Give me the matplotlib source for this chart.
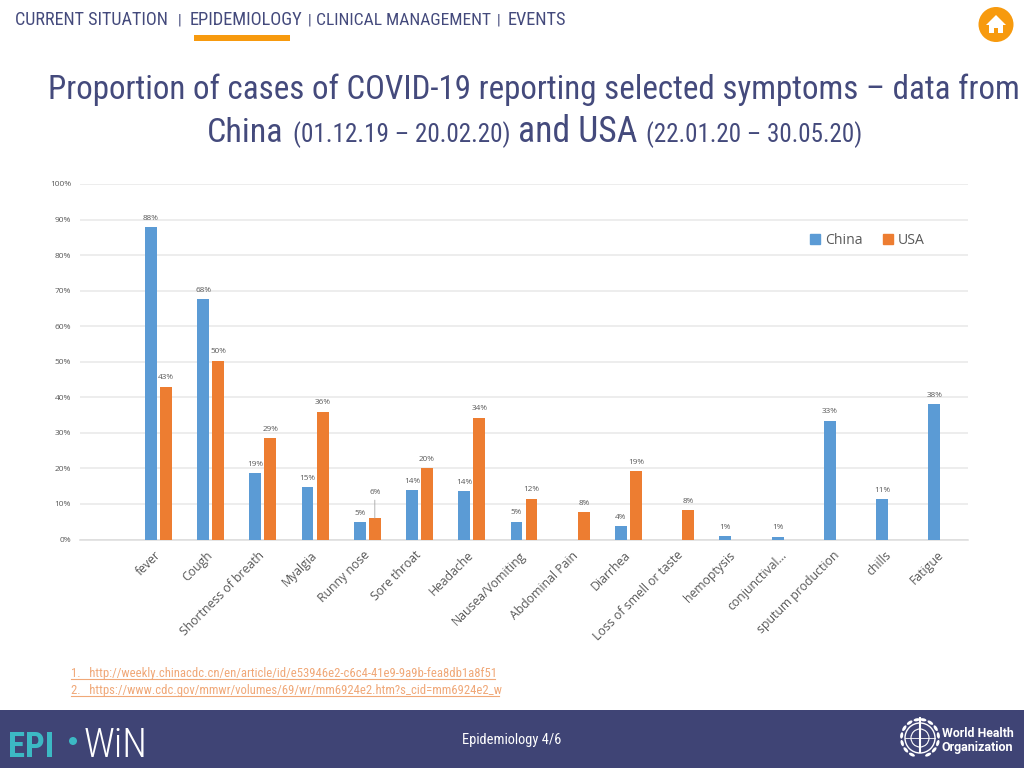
import logging
import matplotlib
matplotlib.use("Agg")
logging.getLogger("matplotlib.font_manager").setLevel(logging.ERROR)
import matplotlib.pyplot as plt
from matplotlib.patches import Rectangle, Circle, Polygon, Ellipse
from matplotlib.lines import Line2D
import numpy as np

categories = ["", "fever", "Cough", "Shortness of breath", "Myalgia", "Runny nose", "Sore throat",
              "Headache", "Nausea/Vomiting", "Abdominal Pain", "Diarrhea", "Loss of smell or taste",
              "hemoptysis", "conjunctival...", "sputum production", "chills", "Fatigue"]
china = [None, 87.9, 67.7, 18.6, 14.8, 4.8, 13.9, 13.6, 5.0, None, 3.7, None, 0.9, 0.8, 33.4, 11.4, 38.1]
usa = [None, 43.0, 50.3, 28.5, 36.0, 6.0, 20.0, 34.3, 11.5, 7.6, 19.2, 8.3, None, None, None, None, None]
china_labels = [None, "88%", "68%", "19%", "15%", "5%", "14%", "14%", "5%", None, "4%", None, "1%", "1%", "33%", "11%", "38%"]
usa_labels = [None, "43%", "50%", "29%", "36%", "6%", "20%", "34%", "12%", "8%", "19%", "8%", None, None, None, None, None]
y_ticks = list(range(0, 101, 10))

NAVY = "#444a7c"
FOOT = "#3f4475"
BLUE = "#5b9bd5"
ORANGE = "#ed7d31"
GREY = "#595959"
NARROW = ["Liberation Sans Narrow", "Roboto Condensed", "Roboto", "DejaVu Sans"]
COND = ["Roboto Condensed", "Roboto", "DejaVu Sans"]
OPEN = ["Open Sans", "DejaVu Sans"]

fig = plt.figure(figsize=(10.24, 7.68), dpi=100, facecolor="white")
renderer = fig.canvas.get_renderer()

bg = fig.add_axes([0, 0, 1, 1], zorder=0)
bg.set_xlim(0, 1024)
bg.set_ylim(768, 0)
bg.axis("off")


def fit(x0, x1, y, s, color=NAVY, family=NARROW, weight="normal"):
    """Real text whose font size is chosen so it spans the pixel range x0..x1."""
    txt = bg.text(x0, y, s, fontsize=20, color=color, ha="left", va="baseline", family=family, weight=weight)
    width = txt.get_window_extent(renderer).width
    txt.set_fontsize(20 * (x1 - x0) / width)
    return txt


# top navigation
for x0, x1, s in [(15, 169, "CURRENT SITUATION"), (178, 180, "|"), (190, 303, "EPIDEMIOLOGY"), (308, 310, "|"),
                  (316, 491, "CLINICAL MANAGEMENT"), (497, 499, "|"), (508, 567, "EVENTS")]:
    if s == "|":
        bg.text(x0, 25, s, fontsize=11, color=NAVY, family=NARROW, va="baseline")
    else:
        fit(x0, x1, 25, s)
bg.add_patch(Rectangle((194, 35), 96, 6, color="#f79a0e", lw=0))

# home icon
bg.add_patch(Circle((996, 24.5), 17.5, color="#f79a0e", lw=0))
bg.add_patch(Polygon([(986, 25), (996, 15), (1006, 25)], color="white", lw=0))
bg.add_patch(Rectangle((989, 24), 14, 9, color="white", lw=0))
bg.add_patch(Rectangle((994, 28), 4, 5, color="#f79a0e", lw=0))

# title
fit(48, 1020, 99, "Proportion of cases of COVID-19 reporting selected symptoms – data from")
fit(207, 283, 142, "China")
fit(293, 511, 142, "(01.12.19 – 20.02.20)")
fit(518, 637, 142, "and USA")
fit(646, 862, 142, "(22.01.20 – 30.05.20)")

# references
for y, s, x1 in [(677, "1.   http://weekly.chinacdc.cn/en/article/id/e53946e2-c6c4-41e9-9a9b-fea8db1a8f51", 495),
                 (694, "2.   https://www.cdc.gov/mmwr/volumes/69/wr/mm6924e2.htm?s_cid=mm6924e2_w", 499)]:
    fit(71, x1, y, s, color="#f0a878")
    bg.add_line(Line2D([71, x1], [y + 2, y + 2], color="#f0a878", lw=0.8))

# footer
bg.add_patch(Rectangle((0, 710), 1024, 58, color=FOOT, lw=0))
fit(462, 562, 744, "Epidemiology 4/6", color="white")
fit(8, 54, 757, "EPI", color="#3cb9c4", family=COND, weight="bold")
bg.add_patch(Circle((73, 741), 4, color="#3cb9c4", lw=0))
fit(84, 148, 757, "WiN", color="white", family=COND, weight="light")
fit(942, 1014, 737, "World Health", color="white", family=["Roboto"], weight="bold")
fit(942, 1014, 751, "Organization", color="white", family=["Roboto"], weight="bold")

# WHO emblem
cx, cy = 920, 738
bg.add_patch(Circle((cx, cy), 15, fill=False, ec="white", lw=1))
bg.add_patch(Circle((cx, cy), 9, fill=False, ec="white", lw=0.8))
bg.add_line(Line2D([cx - 15, cx + 15], [cy, cy], color="white", lw=0.6))
bg.add_line(Line2D([cx, cx], [cy - 20, cy + 14], color="white", lw=1.5))
for ang in np.arange(100, 260, 24):
    a = np.deg2rad(ang)
    for sgn in (1, -1):
        bg.add_patch(Ellipse((cx + sgn * 18.5 * np.cos(a), cy - 18.5 * np.sin(a)), 3, 6.5,
                             angle=-sgn * ang, color="white", lw=0))

# chart
L, R, TOP, BOT = 80, 968, 184, 539.5
ax = fig.add_axes([L / 1024, 1 - BOT / 768, (R - L) / 1024, (BOT - TOP) / 768], zorder=1)
ax.patch.set_alpha(0)
x = np.arange(len(categories))
off, w = 0.144, 0.228

for i, (c, u) in enumerate(zip(china, usa)):
    if c is not None:
        ax.bar(i - off, c, w, color=BLUE, zorder=3)
        ax.annotate(china_labels[i], (i - off, c), xytext=(0, 3.8), textcoords="offset points",
                    ha="center", va="bottom", fontsize=5.9, color=GREY, family=OPEN, zorder=4)
    if u is not None:
        ax.bar(i + off, u, w, color=ORANGE, zorder=3)
        if usa_labels[i] == "6%":
            ax.annotate(usa_labels[i], (i + off, u), xytext=(0, 16), textcoords="offset points",
                        ha="center", va="bottom", fontsize=5.9, color=GREY, family=OPEN, zorder=4,
                        arrowprops=dict(arrowstyle="-", color="#a6a6a6", lw=0.6, shrinkA=1, shrinkB=0))
        else:
            ax.annotate(usa_labels[i], (i + off, u), xytext=(0, 3.8), textcoords="offset points",
                        ha="center", va="bottom", fontsize=5.9, color=GREY, family=OPEN, zorder=4)

ax.set_xlim(-0.5, len(categories) - 0.5)
ax.set_ylim(0, 100)
ax.set_yticks(y_ticks)
ax.set_yticklabels([f"{v}%" for v in y_ticks], fontsize=6.0, color=GREY, family=OPEN)
ax.set_xticks(x)
ax.set_xticklabels(categories, rotation=45, ha="right", va="center", rotation_mode="anchor",
                   fontsize=8.8, color=GREY, family=OPEN)
ax.tick_params(axis="y", length=0, pad=6.5)
ax.tick_params(axis="x", length=0, pad=10)
ax.grid(axis="y", color="#e8e8e8", lw=1.1, zorder=0)
ax.set_axisbelow(True)
for s in ("top", "left", "right"):
    ax.spines[s].set_visible(False)
ax.spines["bottom"].set_color("#dcdcdc")
ax.spines["bottom"].set_linewidth(1.1)

handles = [Rectangle((0, 0), 1, 1, color=BLUE), Rectangle((0, 0), 1, 1, color=ORANGE)]
ax.legend(handles, ["China", "USA"], ncol=2, frameon=False, loc="center right",
          bbox_to_anchor=((925 - L) / (R - L), 1 - (240.5 - TOP) / (BOT - TOP)),
          labelcolor=GREY, prop={"family": OPEN, "size": 10.1},
          handlelength=0.7, handleheight=0.7, handletextpad=0.35, columnspacing=1.5,
          borderpad=0, borderaxespad=0)

fig.savefig("out.png", dpi=100, facecolor="white")
